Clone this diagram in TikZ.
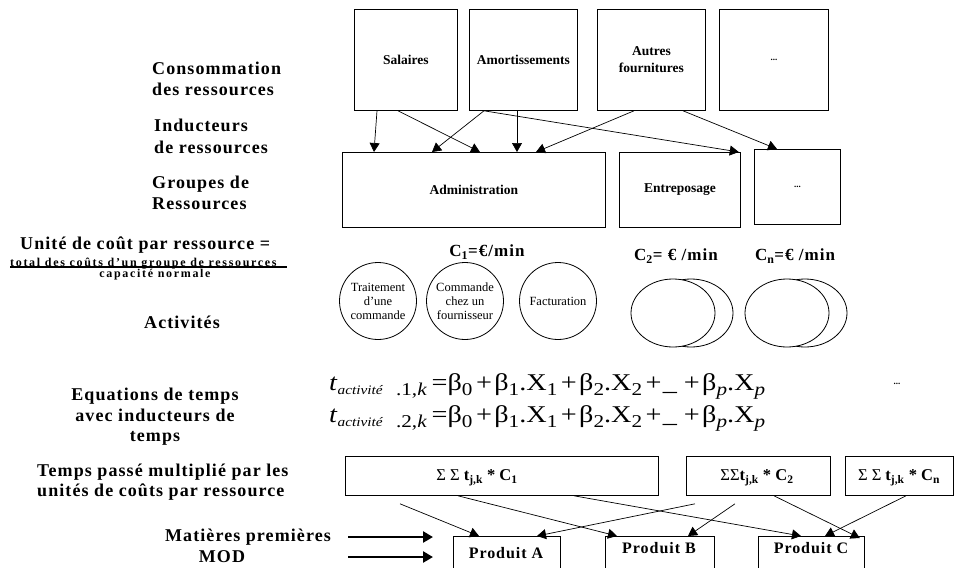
\documentclass[tikz,border=0pt]{standalone}
\usepackage{fontspec}
\setmainfont{Liberation Serif}
\newfontfamily\lsfont[LetterSpace=6]{Liberation Serif}
\newfontfamily\wsfont[LetterSpace=14]{Liberation Serif}
\usepackage{graphicx}
\usetikzlibrary{arrows.meta,shapes.geometric,calc}
\newcommand{\eqsub}[1]{\raisebox{-5pt}{\fontsize{18}{18}\selectfont #1}}
\newcommand{\eqln}[1]{\textit{t}\raisebox{-4pt}{\fontsize{13}{13}\selectfont\textit{activité}}\hspace{11pt}\eqsub{.#1,\textit{k}}\hspace{4pt}=β\eqsub{0}\hspace{3pt}+\hspace{2pt}β\eqsub{1}.X\eqsub{1}\hspace{3pt}+\hspace{2pt}β\eqsub{2}.X\eqsub{2}\hspace{3pt}+\hspace{1pt}\_\hspace{6pt}+\hspace{2pt}β\eqsub{\textit{p}}.X\eqsub{\textit{p}}}
\begin{document}
\begin{tikzpicture}[x=1pt,y=-1pt,
 lbl/.style={font=\lsfont\bfseries\fontsize{18}{21.5}\selectfont, inner sep=0},
 box/.style={draw, line width=0.8pt, inner sep=0, anchor=north west},
 boxtxt/.style={font=\bfseries\fontsize{13.5}{17}\selectfont, align=center},
 act/.style={draw, circle, line width=0.8pt, minimum size=77pt, inner sep=0, align=center, font=\fontsize{12.5}{14}\selectfont},
 oval/.style={draw, ellipse, line width=0.8pt, minimum width=84pt, minimum height=68pt, fill=white, inner sep=0},
 arr/.style={-{Triangle[length=9pt,width=10pt]}, line width=0.7pt},
 fat/.style={-{Triangle[length=10pt,width=11pt]}, line width=2.6pt},
 cost/.style={font=\lsfont\bfseries\fontsize{17}{20}\selectfont, inner sep=0},
 sumtxt/.style={font=\fontsize{16.5}{19}\selectfont, inner sep=0},
 prod/.style={font=\lsfont\bfseries\fontsize{16}{19}\selectfont, inner sep=0},
 dots/.style={font=\bfseries\fontsize{9}{9}\selectfont, inner sep=0}
]
\useasboundingbox (0,0) rectangle (954,568);
\clip (0,0) rectangle (954,568);

% top row
\node[box, minimum width=103pt, minimum height=101pt, boxtxt] (sal) at (354,9) {Salaires};
\node[box, minimum width=108pt, minimum height=101pt, boxtxt] (amo) at (469,9) {Amortissements};
\node[box, minimum width=108pt, minimum height=101pt, boxtxt] (aut) at (597,9) {Autres\\fournitures};
\node[box, minimum width=109pt, minimum height=101pt, dots] (dt1) at (719,9) {...};

% second row
\node[box, minimum width=263pt, minimum height=75pt, boxtxt] (adm) at (342,152) {Administration};
\node[box, minimum width=121pt, minimum height=75pt, boxtxt] (ent) at (619,152) {Entreposage};
\node[box, minimum width=86pt, minimum height=75pt, dots] (dt2) at (754,149) {...};

\draw[arr] ([xshift=23pt]sal.south west) -- ([xshift=32pt]adm.north west);
\draw[arr] ([xshift=44pt]sal.south west) -- ([xshift=138pt]adm.north west);
\draw[arr] ([xshift=15pt]amo.south west) -- ([xshift=90pt]adm.north west);
\draw[arr] ([xshift=48pt]amo.south west) -- ([xshift=175pt]adm.north west);
\draw[arr] ([xshift=15pt]amo.south west) -- ([xshift=-2pt]ent.north east);
\draw[arr] ([xshift=37pt]aut.south west) -- ([xshift=194pt]adm.north west);
\draw[arr] ([xshift=86pt]aut.south west) -- ([xshift=23pt]dt2.north west);

% left labels
\node[lbl, anchor=west, align=left] (lconso) at (152,79) {Consommation\\des ressources};
\node[lbl, anchor=west, align=left] (lind) at (154,136.5) {Inducteurs\\de ressources};
\node[lbl, anchor=west, align=left] (lgrp) at (152,193) {Groupes de\\Ressources};
\node[lbl, anchor=west] (lunit) at (20,245) {Unité de coût par ressource =};
\node[font=\wsfont\bfseries\fontsize{12}{13}\selectfont, inner sep=0, anchor=base west] (ltot) at (10,266) {total des coûts d’un groupe de ressources};
\draw[line width=1.8pt] (10,267) -- (287,267);
\node[font=\wsfont\bfseries\fontsize{12}{13}\selectfont, inner sep=0] (lcap) at (155,275) {capacité normale};
\node[lbl] (lact) at (182,322) {Activités};
\node[lbl, align=center, font=\lsfont\bfseries\fontsize{18}{20.5}\selectfont] (leq) at (155,417) {Equations de temps\\avec inducteurs de\\temps};
\node[lbl, anchor=west, align=left, font=\lsfont\bfseries\fontsize{18}{20}\selectfont] (ltps) at (37,482) {Temps passé multiplié par les\\unités de coûts par ressource};
\node[lbl] (lmp) at (248,537) {Matières premières};
\node[lbl] (lmod) at (222,557) {MOD};

% costs
\node[cost] (c1) at (487,252) {C\textsubscript{1}=€/min};
\node[cost] (c2) at (676,256) {C\textsubscript{2}= € /min};
\node[cost] (cn) at (795,256) {C\textsubscript{n}=€ /min};

% activities
\node[act] (a1) at (378,301) {Traitement\\d’une\\commande};
\node[act] (a2) at (465,301) {Commande\\chez un\\fournisseur};
\node[act] (a3) at (558,301) {Facturation};
\node[oval] (c2b) at (691,313) {};
\node[oval] (c2f) at (673,313) {};
\node[oval] (cnb) at (805,313) {};
\node[oval] (cnf) at (787,313) {};

% equations
\node[inner sep=0, anchor=base west] (eq1) at (329,390) {\resizebox{436pt}{\height}{\fontsize{24}{24}\selectfont\eqln{1}}};
\node[inner sep=0, anchor=base west] (eq2) at (329,422) {\resizebox{436pt}{\height}{\fontsize{24}{24}\selectfont\eqln{2}}};
\node[dots] (eqdots) at (897,384) {...};

% sums
\node[box, minimum width=313pt, minimum height=39pt] (s1) at (345,456) {};
\node[box, minimum width=144pt, minimum height=39pt] (s2) at (686,456) {};
\node[box, minimum width=108pt, minimum height=39pt] (s3) at (845,456) {};
\node[sumtxt] (s1t) at (477,478) {Σ Σ \textbf{t\textsubscript{j,k} * C\textsubscript{1}}};
\node[sumtxt] (s2t) at (757,478) {ΣΣ\textbf{t\textsubscript{j,k} * C\textsubscript{2}}};
\node[sumtxt] (s3t) at (899,478) {Σ Σ \textbf{t\textsubscript{j,k} * C\textsubscript{n}}};

% products
\node[box, minimum width=107pt, minimum height=45pt] (pa) at (453,536) {};
\node[box, minimum width=109pt, minimum height=45pt] (pb) at (605,536) {};
\node[box, minimum width=106pt, minimum height=45pt] (pc) at (758,536) {};
\node[prod] (pat) at (506,553) {Produit A};
\node[prod] (pbt) at (659,548) {Produit B};
\node[prod] (pct) at (811,548) {Produit C};

\draw[arr] ([xshift=55pt,yshift=-8pt]s1.south west) -- ([xshift=26pt]pa.north west);
\draw[arr] ([xshift=113pt]s1.south west) -- ([xshift=12pt]pb.north west);
\draw[arr] ([xshift=229pt]s1.south west) -- ([xshift=43pt]pc.north west);
\draw[arr] ([xshift=9pt,yshift=-8pt]s2.south west) -- ([xshift=84pt]pa.north west);
\draw[arr] ([xshift=49pt,yshift=-8pt]s2.south west) -- ([xshift=83pt]pb.north west);
\draw[arr] ([xshift=88pt]s2.south west) -- ([xshift=-5pt,yshift=-2pt]pc.north east);
\draw[arr] ([xshift=61pt]s3.south west) -- ([xshift=67pt]pc.north west);

% raw inputs
\coordinate (mpend) at (433,537);
\coordinate (modend) at (433,557);
\draw[fat] ([xshift=17pt]lmp.east) -- (mpend);
\draw[fat] (lmod.east -| lmp.east) ++(17,0) -- (modend);
\end{tikzpicture}
\end{document}
